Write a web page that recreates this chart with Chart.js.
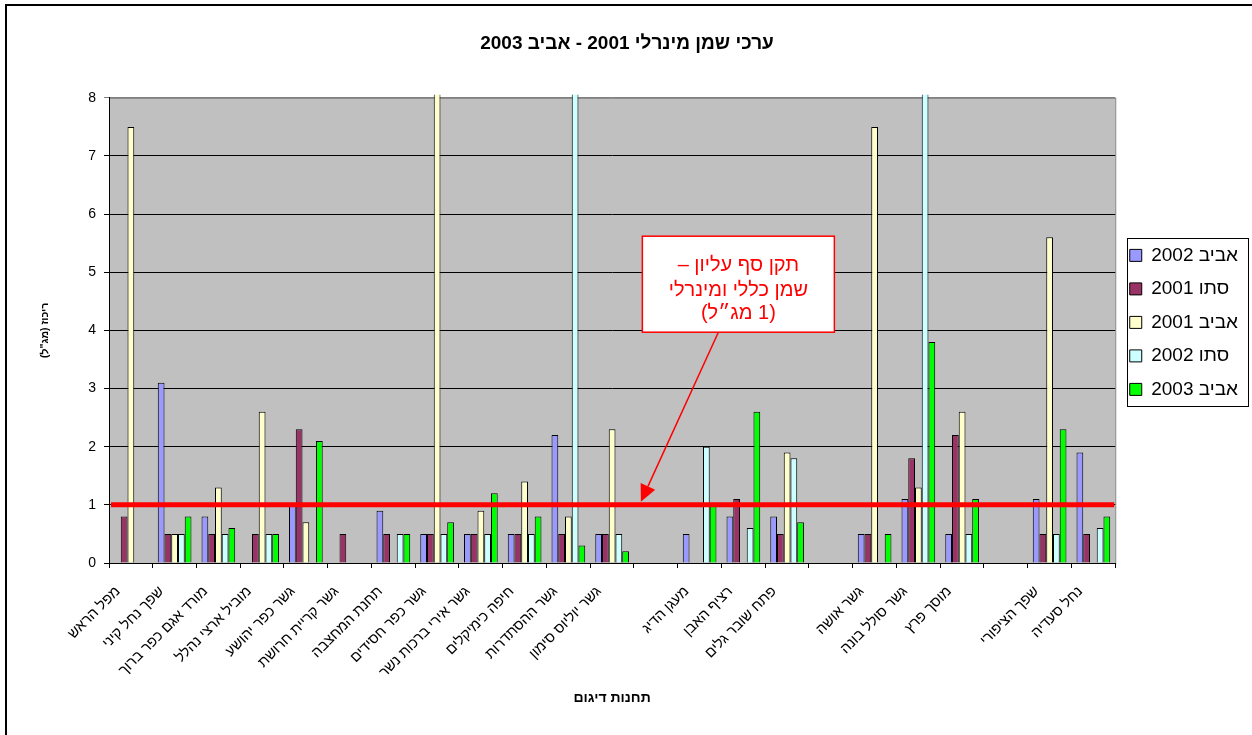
<!DOCTYPE html>
<html lang="he">
<head>
<meta charset="utf-8">
<title>ערכי שמן מינרלי</title>
<script src="https://cdn.jsdelivr.net/npm/chart.js@4.4.1/dist/chart.umd.min.js"></script>
<style>
  html, body { margin: 0; padding: 0; background: #fff; }
  #wrap { width: 1252px; height: 735px; }
  #oilChart { direction: rtl; }
</style>
</head>
<body>
<div id="wrap"><canvas id="oilChart" dir="rtl"></canvas></div>
<script>
// תחנות הדיגום (ריקות = רווח בין קבוצות)
const stations = [
  'מפל הראש', 'שפך נחל קיני', 'מורד אגם כפר ברוך', 'מוביל ארצי נהלל', 'גשר כפר יהושע',
  'גשר קריית חרושת', 'תחנת המחצבה', 'גשר כפר חסידים', 'גשר אירי ברכות נשר', 'חיפה כימיקלים',
  'גשר ההסתדרות', 'גשר יוליוס סימון', '', 'מעגן הדיג', 'רציף האבן', 'פתח שובר גלים', '',
  'גשר אושה', 'גשר סולל בונה', 'מוסך פרץ', '', 'שפך הציפורי', 'נחל סעדיה'
];

// ריכוז שמן מינרלי (מג"ל) לכל סבב דיגום
const spring2002 = [null, 3.1, 0.8, null, 1.0, null, 0.9, 0.5, 0.5, 0.5, 2.2, 0.5, null, 0.5, 0.8, 0.8, null, 0.5, 1.1, 0.5, null, 1.1, 1.9];
const autumn2001 = [0.8, 0.5, 0.5, 0.5, 2.3, 0.5, 0.5, 0.5, 0.5, 0.5, 0.5, 0.5, null, null, 1.1, 0.5, null, 0.5, 1.8, 2.2, null, 0.5, 0.5];
const spring2001 = [7.5, 0.5, 1.3, 2.6, 0.7, null, null, 12, 0.9, 1.4, 0.8, 2.3, null, null, null, 1.9, null, 7.5, 1.3, 2.6, null, 5.6, null];
const autumn2002 = [null, 0.5, 0.5, 0.5, null, null, 0.5, 0.5, 0.5, 0.5, 12, 0.5, null, 2.0, 0.6, 1.8, null, null, 12, 0.5, null, 0.5, 0.6];
const spring2003 = [null, 0.8, 0.6, 0.5, 2.1, null, 0.5, 0.7, 1.2, 0.8, 0.3, 0.2, null, 1.0, 2.6, 0.7, null, 0.5, 3.8, 1.1, null, 2.3, 0.8];

const seriesNames = ['אביב 2002', 'סתו 2001', 'אביב 2001', 'סתו 2002', 'אביב 2003'];
const seriesValues = [spring2002, autumn2001, spring2001, autumn2002, spring2003];
const seriesColors = ['#9999FF', '#993366', '#FFFFCC', '#CCFFFF', '#00FF00'];

const yTicks = [0, 1, 2, 3, 4, 5, 6, 7, 8];
const LIMIT = 1; // תקן סף עליון
const noteLines = ['תקן סף עליון –', 'שמן כללי ומינרלי', '(1 מג״ל)'];

const FONT = 'Liberation Sans, Arial, sans-serif';

const decor = {
  id: 'decor',
  afterLayout(chart) {
    // המקרא קצת מעל מרכז אזור השרטוט
    chart.legend.top -= 8;
    chart.legend.bottom -= 8;
  },
  beforeDraw(chart) {
    const { ctx, chartArea: a, width, height } = chart;
    ctx.save();
    ctx.fillStyle = '#fff';
    ctx.fillRect(0, 0, width, height);
    // מסגרת חיצונית
    ctx.strokeStyle = '#000';
    ctx.lineWidth = 2;
    ctx.beginPath();
    ctx.moveTo(6, height);
    ctx.lineTo(6, 5);
    ctx.lineTo(width, 5);
    ctx.stroke();
    // רקע אזור השרטוט
    ctx.fillStyle = '#C0C0C0';
    ctx.fillRect(a.left, a.top, a.right - a.left, a.bottom - a.top);
    ctx.strokeStyle = '#808080';
    ctx.lineWidth = 1;
    ctx.strokeRect(a.left + 0.5, a.top + 0.5, a.right - a.left, a.bottom - a.top);
    ctx.restore();
  },
  afterDatasetsDraw(chart) {
    const { ctx, chartArea: a, scales: { y } } = chart;
    const ly = y.getPixelForValue(LIMIT);
    ctx.save();
    ctx.strokeStyle = '#FF0000';
    ctx.lineWidth = 5;
    ctx.beginPath();
    ctx.moveTo(a.left + 2, ly);
    ctx.lineTo(a.right - 1, ly);
    ctx.stroke();
    ctx.restore();
  },
  afterDraw(chart) {
    const { ctx, scales: { x, y }, legend } = chart;
    ctx.save();

    // מסגרת המקרא
    const hb = legend.legendHitBoxes;
    if (hb.length) {
      const last = hb[hb.length - 1];
      const l = hb[0].left - 3;
      const t = hb[0].top + hb[0].height / 2 - 17;
      const r = Math.max(...hb.map(h => h.left + h.width)) + 10;
      const b = last.top + last.height / 2 + 17;
      ctx.strokeStyle = '#000';
      ctx.lineWidth = 1;
      ctx.strokeRect(Math.round(l) + 0.5, Math.round(t) + 0.5, Math.round(r - l), Math.round(b - t));
    }

    // תיבת הערה לתקן
    const boxW = 192, boxH = 96;
    const boxL = x.getPixelForValue(14) - 5 - boxW / 2;
    const boxT = y.getPixelForValue(5.62);
    ctx.fillStyle = '#fff';
    ctx.fillRect(boxL, boxT, boxW, boxH);
    ctx.strokeStyle = '#FF0000';
    ctx.lineWidth = 1.5;
    ctx.strokeRect(boxL, boxT, boxW, boxH);
    ctx.fillStyle = '#FF0000';
    ctx.font = '20px ' + FONT;
    ctx.textAlign = 'center';
    ctx.textBaseline = 'middle';
    ctx.direction = 'rtl';
    const cx = boxL + boxW / 2;
    [29, 54, 77].forEach((dy, i) => ctx.fillText(noteLines[i], cx, boxT + dy));

    // חץ אל קו התקן
    const sx = boxL + 76, sy = boxT + boxH;
    const tx = x.getPixelForValue(12) - 15, ty = y.getPixelForValue(LIMIT) - 3;
    const ang = Math.atan2(ty - sy, tx - sx);
    const head = 17, half = 8;
    const bx = tx - head * Math.cos(ang), by = ty - head * Math.sin(ang);
    ctx.strokeStyle = '#FF0000';
    ctx.lineWidth = 1.5;
    ctx.beginPath();
    ctx.moveTo(sx, sy);
    ctx.lineTo(bx, by);
    ctx.stroke();
    ctx.beginPath();
    ctx.moveTo(tx, ty);
    ctx.lineTo(bx + half * Math.sin(ang), by - half * Math.cos(ang));
    ctx.lineTo(bx - half * Math.sin(ang), by + half * Math.cos(ang));
    ctx.closePath();
    ctx.fill();
    ctx.restore();
  }
};

new Chart(document.getElementById('oilChart'), {
  type: 'bar',
  data: {
    labels: stations,
    datasets: seriesNames.map((name, i) => ({
      label: name,
      data: seriesValues[i],
      backgroundColor: seriesColors[i],
      borderColor: '#000',
      borderWidth: 1
    }))
  },
  options: {
    responsive: true,
    maintainAspectRatio: false,
    animation: false,
    layout: { padding: { left: 6, right: 4, top: 0, bottom: 0 } },
    datasets: {
      bar: {
        categoryPercentage: 0.77,
        barPercentage: 1,
        clip: { left: false, top: 3, right: false, bottom: false }
      }
    },
    plugins: {
      title: {
        display: true,
        text: 'ערכי שמן מינרלי 2001 - אביב 2003',
        color: '#000',
        font: { family: FONT, size: 19, weight: 'bold' },
        padding: { top: 32, bottom: 43 }
      },
      legend: {
        position: 'right',
        fullSize: false,
        labels: {
          color: '#000',
          boxWidth: 12,
          boxHeight: 12,
          padding: 14.5,
          font: { family: FONT, size: 19 }
        }
      },
      tooltip: { enabled: false }
    },
    scales: {
      x: {
        grid: { display: true, drawOnChartArea: false, drawTicks: true, tickLength: 5, color: '#000', offset: true },
        border: { color: '#000', width: 1 },
        ticks: {
          autoSkip: false, minRotation: 45, maxRotation: 45,
          labelOffset: -13, padding: 15,
          color: '#000', font: { family: FONT, size: 14.5 }
        },
        title: {
          display: true,
          text: 'תחנות דיגום',
          color: '#000',
          font: { family: FONT, size: 14, weight: 'bold' },
          padding: { top: 0, bottom: 28 }
        },
        afterFit(scale) { scale.height = 172; }
      },
      y: {
        min: yTicks[0],
        max: yTicks[yTicks.length - 1],
        afterBuildTicks(scale) { scale.ticks = yTicks.map(v => ({ value: v })); },
        grid: {
          color: ctx => (ctx.tick && ctx.tick.value === yTicks[yTicks.length - 1]) ? '#808080' : '#000',
          tickLength: 5
        },
        border: { color: '#000', width: 1 },
        ticks: { color: '#000', padding: 8, font: { family: FONT, size: 14 } },
        title: {
          display: true,
          text: 'ריכוז (מג"ל)',
          color: '#000',
          font: { family: FONT, size: 10.5, weight: 'bold' },
          padding: { top: 33, bottom: 0 }
        },
        afterFit(scale) { scale.width = 103; }
      }
    }
  },
  plugins: [decor]
});
</script>
</body>
</html>
